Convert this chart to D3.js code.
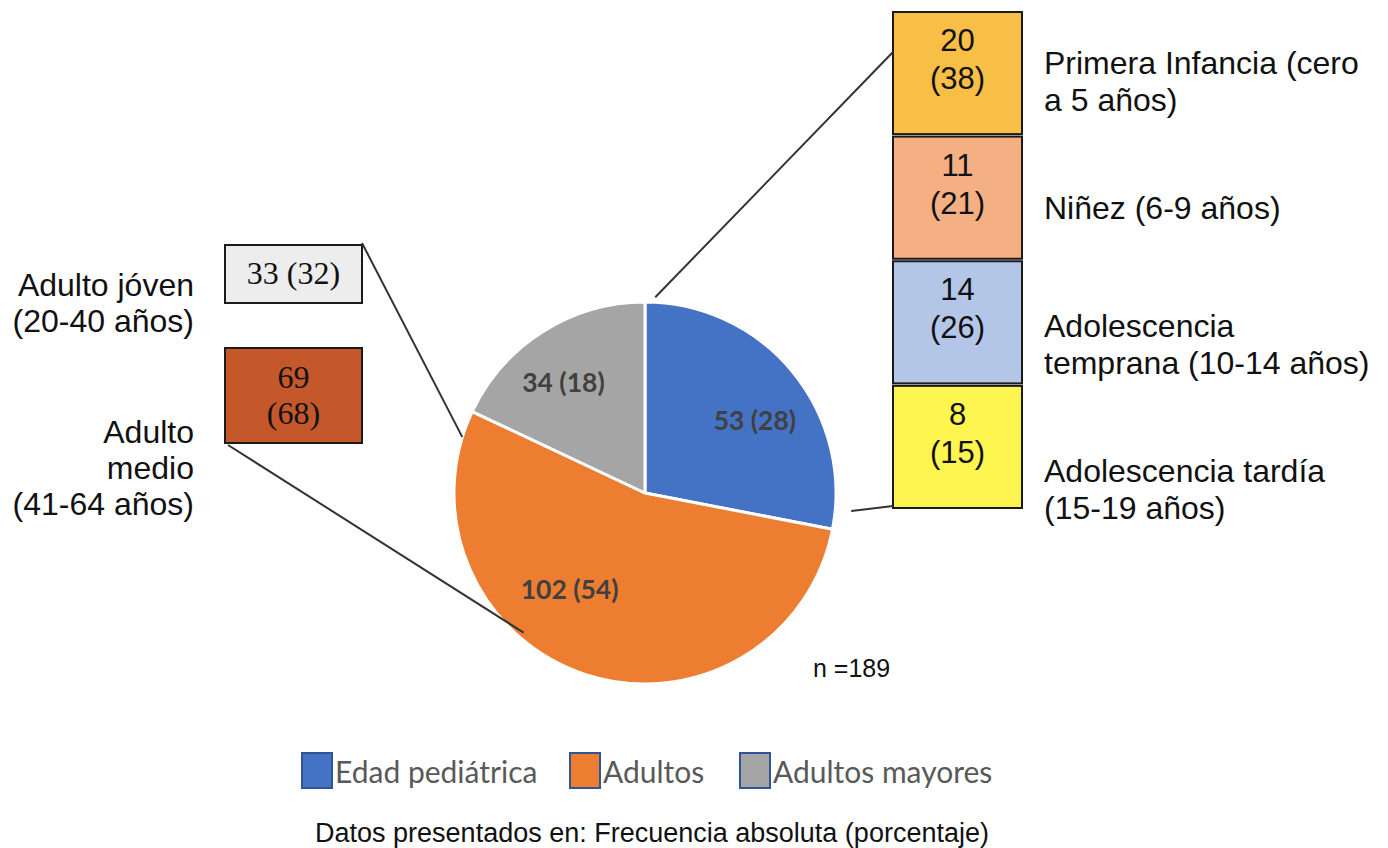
<!DOCTYPE html>
<html>
<head>
<meta charset="utf-8">
<script src="https://cdn.jsdelivr.net/npm/d3@7"></script>
<style>
  html, body { margin: 0; padding: 0; background: #ffffff; }
  svg { display: block; }
</style>
</head>
<body>
<svg id="chart" width="1388" height="848"></svg>
<script>
// ---- Data -------------------------------------------------------------
const groups = ["Edad pediátrica", "Adultos", "Adultos mayores"];
const groupCounts = [53, 102, 34];
const groupPercents = [28, 54, 18];
const groupColors = ["#4472c4", "#ed7d31", "#a5a5a5"];

const pediatricLabels = [
  ["Primera Infancia (cero", "a 5 años)"],
  ["Niñez (6-9 años)"],
  ["Adolescencia", "temprana (10-14 años)"],
  ["Adolescencia tardía", "(15-19 años)"]
];
const pediatricCounts = [20, 11, 14, 8];
const pediatricPercents = [38, 21, 26, 15];
const pediatricColors = ["#f7bf45", "#f4b083", "#b4c6e7", "#fff550"];

const adultLabels = [
  ["Adulto jóven", "(20-40 años)"],
  ["Adulto", "medio", "(41-64 años)"]
];
const adultCounts = [33, 69];
const adultPercents = [32, 68];
const adultColors = ["#ededed", "#c5582a"];

const sampleSize = 189;
const caption = "Datos presentados en: Frecuencia absoluta (porcentaje)";

// ---- Layout -----------------------------------------------------------
const W = 1388, H = 848;
const cx = 645, cy = 493, R = 191;
const SANS = "'Liberation Sans', Arial, sans-serif";
const SERIF = "'Liberation Serif', 'Times New Roman', serif";
const CALIBRI = "Lato, 'Open Sans', sans-serif";

const svg = d3.select("#chart");
svg.append("rect").attr("width", W).attr("height", H).attr("fill", "#ffffff");

// polar helper: angle in degrees clockwise from 12 o'clock
const polar = (deg, r) => {
  const a = deg * Math.PI / 180;
  return [cx + r * Math.sin(a), cy - r * Math.cos(a)];
};

// ---- Pie --------------------------------------------------------------
const pieData = groups.map((g, i) => ({ name: g, value: groupCounts[i], pct: groupPercents[i], color: groupColors[i] }));
const pie = d3.pie().sort(null).value(d => d.value);
const arcs = pie(pieData);
const arc = d3.arc().innerRadius(0).outerRadius(R);

const pieG = svg.append("g").attr("transform", `translate(${cx},${cy})`);
pieG.selectAll("path.slice")
  .data(arcs)
  .join("path")
  .attr("class", "slice")
  .attr("d", arc)
  .attr("fill", d => d.data.color)
  .attr("stroke", "#ffffff")
  .attr("stroke-width", 3)
  .attr("stroke-linejoin", "round");

// data labels: offset angle (deg relative to slice mid) and radius fraction
const labelPlacement = [
  { dAngle: 6, rf: 0.69 },
  { dAngle: 20, rf: 0.64 },
  { dAngle: -4, rf: 0.72 }
];
arcs.forEach((a, i) => {
  const mid = (a.startAngle + a.endAngle) / 2 * 180 / Math.PI + labelPlacement[i].dAngle;
  const [x, y] = polar(mid, R * labelPlacement[i].rf);
  svg.append("text")
    .attr("x", x).attr("y", y)
    .attr("text-anchor", "middle")
    .attr("dominant-baseline", "central")
    .attr("font-family", CALIBRI)
    .attr("font-weight", 700)
    .attr("font-size", 26.5)
    .attr("fill", "#404040")
    .text(`${a.data.value} (${a.data.pct})`);
});

// ---- Pediatric breakdown (right column) ---------------------------------
const boxX = 893, boxW = 129;
const yBand = d3.scaleBand().domain(d3.range(pediatricCounts.length)).range([12, 508]).paddingInner(0.02);

const rightG = svg.append("g");
pediatricCounts.forEach((c, i) => {
  const y0 = yBand(i), h = yBand.bandwidth();
  rightG.append("rect")
    .attr("x", boxX).attr("y", y0).attr("width", boxW).attr("height", h)
    .attr("fill", pediatricColors[i])
    .attr("stroke", "#1a1a1a").attr("stroke-width", 2);
  rightG.append("text")
    .attr("x", boxX + boxW / 2).attr("y", y0 + 39)
    .attr("text-anchor", "middle")
    .attr("font-family", SANS).attr("font-size", 31).attr("fill", "#111")
    .text(c);
  rightG.append("text")
    .attr("x", boxX + boxW / 2).attr("y", y0 + 77)
    .attr("text-anchor", "middle")
    .attr("font-family", SANS).attr("font-size", 31).attr("fill", "#111")
    .text(`(${pediatricPercents[i]})`);
});

const rightLabelBase = [74, 219, 337, 482];
pediatricLabels.forEach((lines, i) => {
  const t = rightG.append("text")
    .attr("font-family", SANS).attr("font-size", 32).attr("fill", "#111");
  lines.forEach((ln, j) => {
    t.append("tspan").attr("x", 1044).attr("y", rightLabelBase[i] + j * 37).text(ln);
  });
});

// ---- Adult breakdown (left column) ------------------------------------
const leftBoxes = [
  { x: 225, y: 245, w: 137, h: 58, lines: [`${adultCounts[0]} (${adultPercents[0]})`], base: 284 },
  { x: 225, y: 348, w: 137, h: 95, lines: [`${adultCounts[1]}`, `(${adultPercents[1]})`], base: 388 }
];
const leftG = svg.append("g");
leftBoxes.forEach((b, i) => {
  leftG.append("rect")
    .attr("x", b.x).attr("y", b.y).attr("width", b.w).attr("height", b.h)
    .attr("fill", adultColors[i])
    .attr("stroke", "#1a1a1a").attr("stroke-width", 2);
  b.lines.forEach((ln, j) => {
    leftG.append("text")
      .attr("x", b.x + b.w / 2).attr("y", b.base + j * 36)
      .attr("text-anchor", "middle")
      .attr("font-family", SERIF).attr("font-size", 32).attr("fill", "#111")
      .text(ln);
  });
});

const leftLabelBase = [296, 443];
adultLabels.forEach((lines, i) => {
  const t = leftG.append("text")
    .attr("text-anchor", "end")
    .attr("font-family", SANS).attr("font-size", 32).attr("fill", "#111");
  lines.forEach((ln, j) => {
    t.append("tspan").attr("x", 194).attr("y", leftLabelBase[i] + j * 36).text(ln);
  });
});

// ---- Leader lines -----------------------------------------------------
const leaders = [
  { from: [boxX, yBand(0) + 40], angle: 3, r: 196 },
  { from: [boxX, yBand(3) + yBand.bandwidth() - 2], angle: 95, r: 207 },
  { from: [leftBoxes[0].x + leftBoxes[0].w, leftBoxes[0].y - 2], angle: 287, r: 191 },
  { from: [leftBoxes[1].x + 3, leftBoxes[1].y + leftBoxes[1].h + 2], angle: 221, r: 185 }
];
svg.append("g").selectAll("line")
  .data(leaders)
  .join("line")
  .attr("x1", d => d.from[0]).attr("y1", d => d.from[1])
  .attr("x2", d => polar(d.angle, d.r)[0]).attr("y2", d => polar(d.angle, d.r)[1])
  .attr("stroke", "#333").attr("stroke-width", 2);

// ---- Sample size ------------------------------------------------------
svg.append("text")
  .attr("x", 813).attr("y", 677)
  .attr("font-family", SANS).attr("font-size", 25).attr("fill", "#111")
  .text(`n =${sampleSize}`);

// ---- Legend -----------------------------------------------------------
const legendG = svg.append("g");
const legendY = 753, swW = 30, swH = 35;
const legendX = [302, 570, 740];
groups.forEach((g, i) => {
  legendG.append("rect")
    .attr("x", legendX[i]).attr("y", legendY).attr("width", swW).attr("height", swH)
    .attr("fill", groupColors[i])
    .attr("stroke", "#2f5597").attr("stroke-width", 2);
  legendG.append("text")
    .attr("x", legendX[i] + swW + 3).attr("y", 783)
    .attr("font-family", CALIBRI).attr("font-size", 30).attr("fill", "#595959")
    .text(g);
});

// ---- Caption ----------------------------------------------------------
svg.append("text")
  .attr("x", 652).attr("y", 842)
  .attr("text-anchor", "middle")
  .attr("font-family", SANS).attr("font-size", 27).attr("fill", "#111")
  .text(caption);
</script>
</body>
</html>
